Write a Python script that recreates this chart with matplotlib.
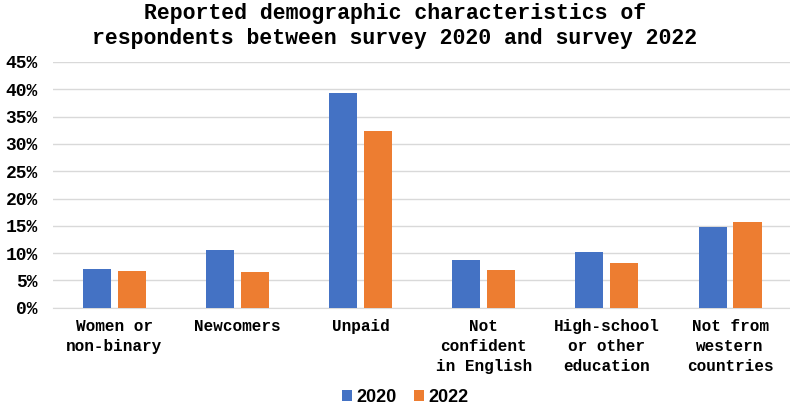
import matplotlib
matplotlib.use("Agg")
import matplotlib.pyplot as plt
import numpy as np
from matplotlib.ticker import PercentFormatter

categories = ["Women or\nnon-binary", "Newcomers", "Unpaid", "Not\nconfident\nin English",
              "High-school\nor other\neducation", "Not from\nwestern\ncountries"]
survey_2020 = [7.1, 10.6, 39.4, 8.8, 10.3, 14.8]
survey_2022 = [6.7, 6.5, 32.3, 7.0, 8.2, 15.7]

mono = "Liberation Mono"
fig = plt.figure(figsize=(7.9, 4.05), dpi=100)
ax = fig.add_axes([0.067, 0.24, 0.935, 0.607])

x = np.arange(len(categories))
w = 0.228
off = 0.142
ax.bar(x - off, survey_2020, w, color="#4472c4", label="2020", zorder=3)
ax.bar(x + off, survey_2022, w, color="#ed7d31", label="2022", zorder=3)

ax.set_xlim(-0.5, len(categories) - 0.5)
ax.set_ylim(0, 45)
ax.set_yticks(np.arange(0, 46, 5))
ax.yaxis.set_major_formatter(PercentFormatter(decimals=0))
ax.grid(axis="y", color="#d9d9d9", lw=1, zorder=0)
for s in ["top", "right", "left"]:
    ax.spines[s].set_visible(False)
ax.spines["bottom"].set_color("#d9d9d9")
ax.tick_params(length=0)
ax.tick_params(axis="y", pad=11)
ax.tick_params(axis="x", pad=8)
ax.set_xticks(x)
ax.set_xticklabels(categories, fontfamily=mono, fontweight="bold", fontsize=11.5,
                   linespacing=1.42)
for t in ax.get_yticklabels():
    t.set_fontfamily(mono)
    t.set_fontweight("bold")
    t.set_fontsize(13)

fig.suptitle("Reported demographic characteristics of\nrespondents between survey 2020 and survey 2022",
             fontfamily=mono, fontweight="bold", fontsize=15.5, y=0.992, linespacing=1.25)

fig.legend(loc="lower center", bbox_to_anchor=(0.513, -0.042), ncol=2, frameon=False,
           prop={"family": "Liberation Sans", "weight": "bold", "size": 13},
           handlelength=0.55, handleheight=0.55, handletextpad=0.25, columnspacing=1.0)

fig.savefig("out.png", dpi=100)
